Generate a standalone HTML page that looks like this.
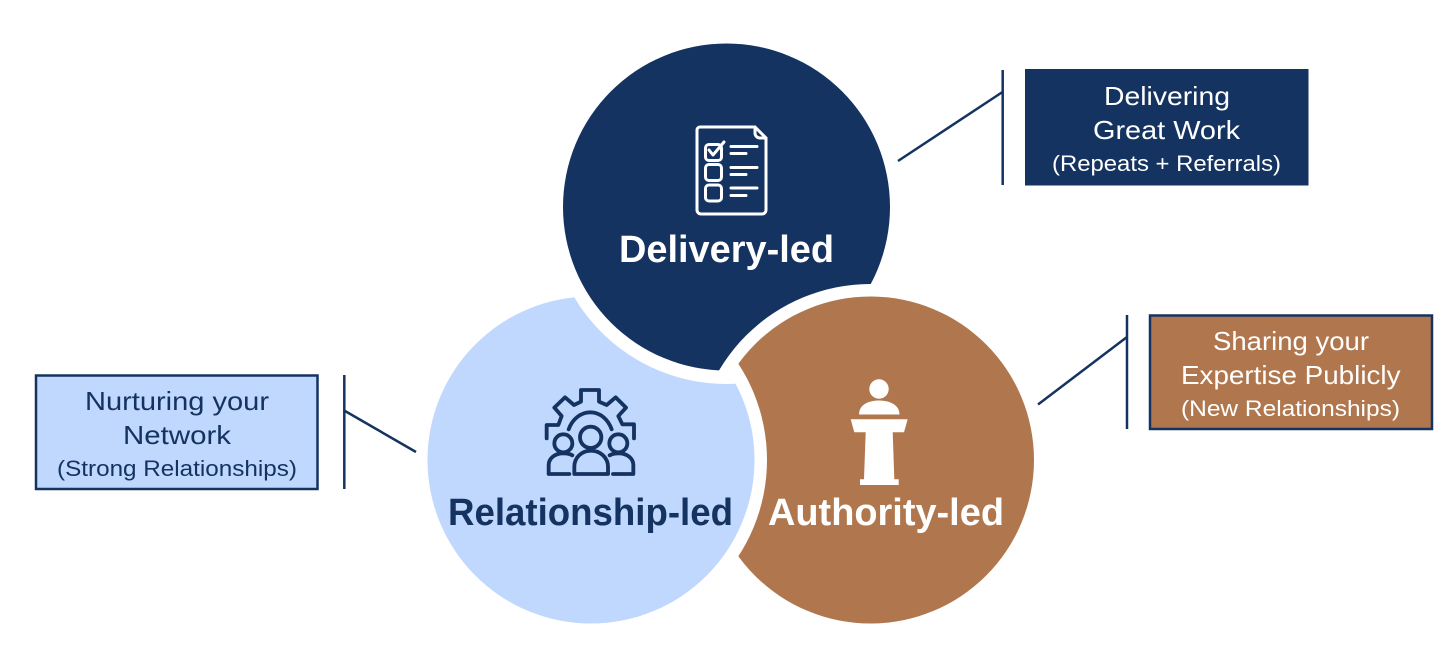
<!DOCTYPE html>
<html>
<head>
<meta charset="utf-8">
<style>
html,body{margin:0;padding:0;background:#fff;width:1456px;height:667px;overflow:hidden}
svg{display:block}
text{font-family:"Liberation Sans",sans-serif;text-anchor:start}
</style>
</head>
<body>
<svg width="1456" height="667" viewBox="0 0 1456 667" xmlns="http://www.w3.org/2000/svg">
<defs>
<mask id="mNavy" maskUnits="userSpaceOnUse" x="0" y="0" width="1456" height="667"><rect width="1456" height="667" fill="#fff"/><circle cx="870.5" cy="460" r="176" fill="#000"/></mask>
<mask id="mBlue" maskUnits="userSpaceOnUse" x="0" y="0" width="1456" height="667"><rect width="1456" height="667" fill="#fff"/><circle cx="726.5" cy="207" r="177" fill="#000"/></mask>
<mask id="mBrown" maskUnits="userSpaceOnUse" x="0" y="0" width="1456" height="667"><rect width="1456" height="667" fill="#fff"/><circle cx="591" cy="460" r="176" fill="#000"/></mask>
</defs>
<rect width="1456" height="667" fill="#fff"/>

<circle cx="726.5" cy="207" r="163.5" fill="#143361" mask="url(#mNavy)"/>
<circle cx="591" cy="460" r="163.5" fill="#c0d7fe" mask="url(#mBlue)"/>
<circle cx="870.5" cy="460" r="163.5" fill="#b0774e" mask="url(#mBrown)"/>

<!-- Checklist icon -->
<g fill="none" stroke="#fff" stroke-width="3" stroke-linecap="round" stroke-linejoin="round">
<path d="M700 127H755L766 138V210a4 4 0 0 1-4 4H701a4 4 0 0 1-4-4V130a3 3 0 0 1 3-3Z"/>
<path d="M755 127V133a5 5 0 0 0 5 5H766"/>
<rect x="705.500" y="144.500" width="16" height="16" rx="3.500"/>
<rect x="705.500" y="164.500" width="16" height="16" rx="3.500"/>
<rect x="705.500" y="185" width="16" height="16" rx="3.500"/>
<path d="M709 150L713 155L724 142"/>
<path d="M731 146.500H757M731 153.500H746M731 167.500H757M731 174.500H746M731 188H757M731 195.500H746"/>
</g>

<!-- Team gear icon -->
<g transform="translate(420 290) scale(.33333)" fill="none" stroke="#143361" stroke-width="11.500" stroke-linejoin="round" stroke-linecap="round">
<path d="M380 445V405H415L425 378L403 353L435 322L462 345L483 335V300H537V335L560 345L587 322L618 353L595 378L607 403H642V445"/>
<path d="M446 418C456 390 480 367 511 367C542 367 565 390 575 418"/>
<circle cx="512" cy="442" r="32"/>
<path d="M463 552V530C463 503 485 482 513 482C541 482 564 503 564 530V552Z"/>
<circle cx="430" cy="460" r="27"/>
<path d="M448 552H386V525C386 505 405 490 430 490C440 490 450 492 457 496"/>
<circle cx="595" cy="460" r="27"/>
<path d="M579 552H640V525C640 505 621 490 596 490C586 490 576 492 569 496"/>
</g>

<!-- Podium icon -->
<g fill="#fff">
<circle cx="879" cy="389" r="9.700"/>
<path d="M859 414.500C859 405 868 400.500 879 400.500C890 400.500 899.500 405 899.500 414.500Z"/>
<path d="M850.700 419.300H907.700L904 432.300H892.700L894.300 479.300H898.700V485H860V479.300H864L865.700 432.300H854.300Z"/>
</g>

<!-- Circle labels -->
<text x="619" y="262" font-size="38" font-weight="700" fill="#fff" textLength="215" lengthAdjust="spacingAndGlyphs">Delivery-led</text>
<text x="448" y="525" font-size="38" font-weight="700" fill="#143361" textLength="285" lengthAdjust="spacingAndGlyphs">Relationship-led</text>
<text x="768" y="525" font-size="38" font-weight="700" fill="#fff" textLength="236" lengthAdjust="spacingAndGlyphs">Authority-led</text>

<!-- Top right callout -->
<line x1="898" y1="161" x2="1002.500" y2="92" stroke="#143361" stroke-width="2.500"/>
<line x1="1002.700" y1="70" x2="1002.700" y2="185" stroke="#143361" stroke-width="2.500"/>
<rect x="1025" y="69" width="283.500" height="116.500" fill="#143361"/>
<text x="1104" y="105" font-size="26" fill="#fff" textLength="126" lengthAdjust="spacingAndGlyphs">Delivering</text>
<text x="1093" y="139" font-size="26" fill="#fff" textLength="147" lengthAdjust="spacingAndGlyphs">Great Work</text>
<text x="1052" y="171" font-size="22.500" fill="#fff" textLength="229" lengthAdjust="spacingAndGlyphs">(Repeats + Referrals)</text>

<!-- Right callout -->
<line x1="1038" y1="404.500" x2="1127" y2="337" stroke="#143361" stroke-width="2.500"/>
<line x1="1127" y1="315" x2="1127" y2="429" stroke="#143361" stroke-width="2.500"/>
<rect x="1150" y="315.500" width="282" height="113.500" fill="#b0774e" stroke="#143361" stroke-width="2.500"/>
<text x="1213" y="350" font-size="26" fill="#fff" textLength="156" lengthAdjust="spacingAndGlyphs">Sharing your</text>
<text x="1181" y="384" font-size="26" fill="#fff" textLength="219.500" lengthAdjust="spacingAndGlyphs">Expertise Publicly</text>
<text x="1181" y="416" font-size="22.500" fill="#fff" textLength="219" lengthAdjust="spacingAndGlyphs">(New Relationships)</text>

<!-- Left callout -->
<line x1="345" y1="411" x2="416" y2="452" stroke="#143361" stroke-width="2.500"/>
<line x1="344.300" y1="375" x2="344.300" y2="489" stroke="#143361" stroke-width="2.500"/>
<rect x="36" y="375.500" width="281.500" height="113.500" fill="#c0d7fe" stroke="#143361" stroke-width="2.500"/>
<text x="85" y="410" font-size="26" fill="#143361" textLength="184" lengthAdjust="spacingAndGlyphs">Nurturing your</text>
<text x="123" y="444" font-size="26" fill="#143361" textLength="108" lengthAdjust="spacingAndGlyphs">Network</text>
<text x="57" y="476" font-size="22.500" fill="#143361" textLength="240" lengthAdjust="spacingAndGlyphs">(Strong Relationships)</text>
</svg>
</body>
</html>
